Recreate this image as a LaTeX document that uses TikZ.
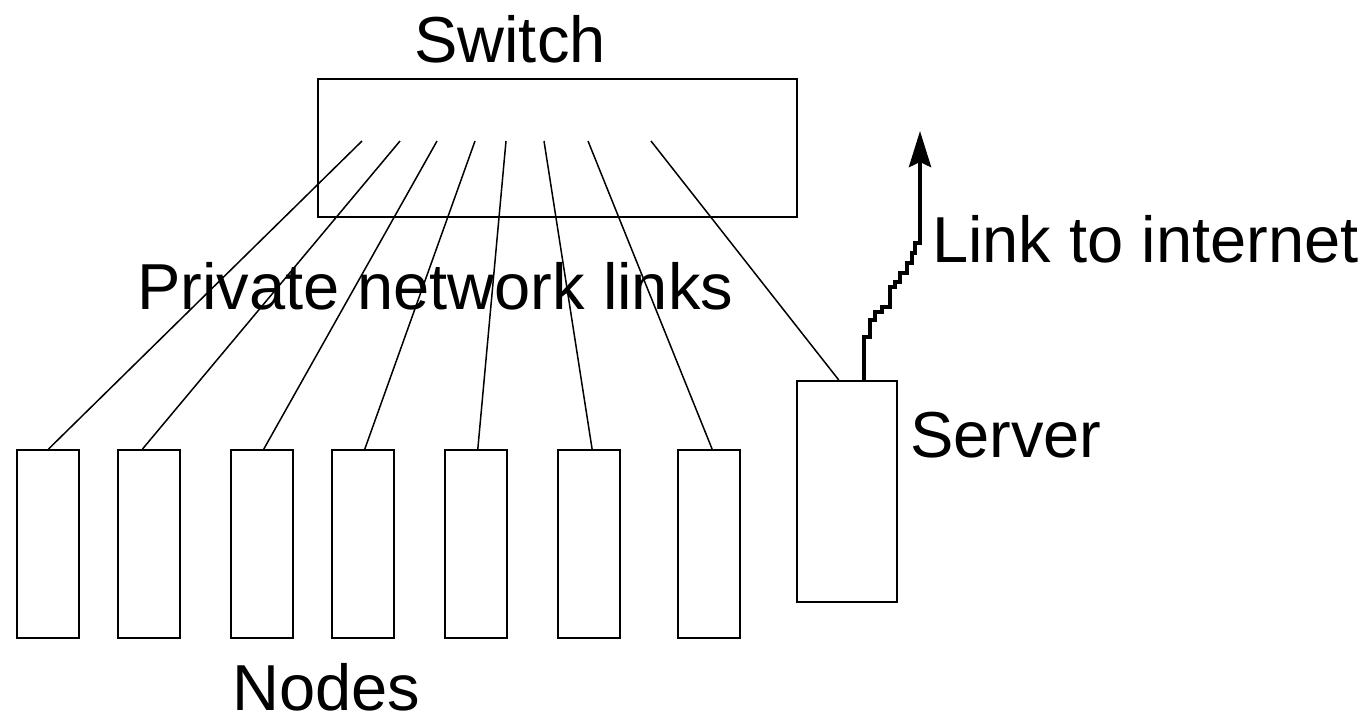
\documentclass[tikz,border=0pt]{standalone}
\usepackage{fontspec}
\setmainfont{Liberation Sans}
\usetikzlibrary{calc,arrows.meta}
\begin{document}
\begin{tikzpicture}[x=1pt,y=-1pt,
  box/.style={draw,line width=1.8pt,inner sep=0,minimum width=62pt,minimum height=188pt,anchor=north west},
  link/.style={line width=1.5pt},
  label/.style={inner sep=0,font=\fontsize{65}{74}\selectfont}]
\useasboundingbox (0,0) rectangle (1372,721);
% switch
\node[draw,line width=1.8pt,inner sep=0,minimum width=479pt,minimum height=138pt,anchor=north west] (sw) at (317,78) {};
\node[label,anchor=base] (swl) at (510,62) {Switch};
% compute nodes
\foreach \i/\x in {1/16,2/117,3/230,4/331,5/444,6/557,7/677}
  \node[box] (n\i) at (\x,449) {};
\node[label,anchor=base west] (nl) at (232,710) {Nodes};
% server
\node[draw,line width=1.8pt,inner sep=0,minimum width=100pt,minimum height=221pt,anchor=north west] (srv) at (796,380) {};
\node[label,anchor=base west] (srvl) at (910,457) {Server};
% port positions inside the switch
\foreach \i/\x in {1/362,2/400,3/437,4/475,5/506,6/544,7/588,8/651}
  \coordinate (p\i) at (\x,141);
% private links
\foreach \i/\f in {1/0.51,2/0.40,3/0.53,4/0.53,5/0.53,6/0.55,7/0.55}
  \draw[link] (p\i) -- ($(n\i.north west)!\f!(n\i.north east)$);
\draw[link] (p8) -- ($(srv.north west)!0.42!(srv.north east)$);
\node[label,anchor=base west] (pl) at (137,309) {Private network links};
% uplink to the internet
\coordinate (up) at (920,131);
\draw[line width=4.3pt,-{Stealth[length=36pt,width=22pt,inset=5pt]}]
  ($(srv.north west)!0.67!(srv.north east)$) |- (870,336.7) |- (875,320) |- (881.7,311.7)
  |- (890,306.7) |- (895,286.7) |- (900,281.7) |- (906.7,273.3) |- (911.7,263.3)
  |- (915,253.3) |- (920,243.3) -- (up);
\node[label,anchor=base west] (il) at (932,262) {Link to internet};
\end{tikzpicture}
\end{document}
